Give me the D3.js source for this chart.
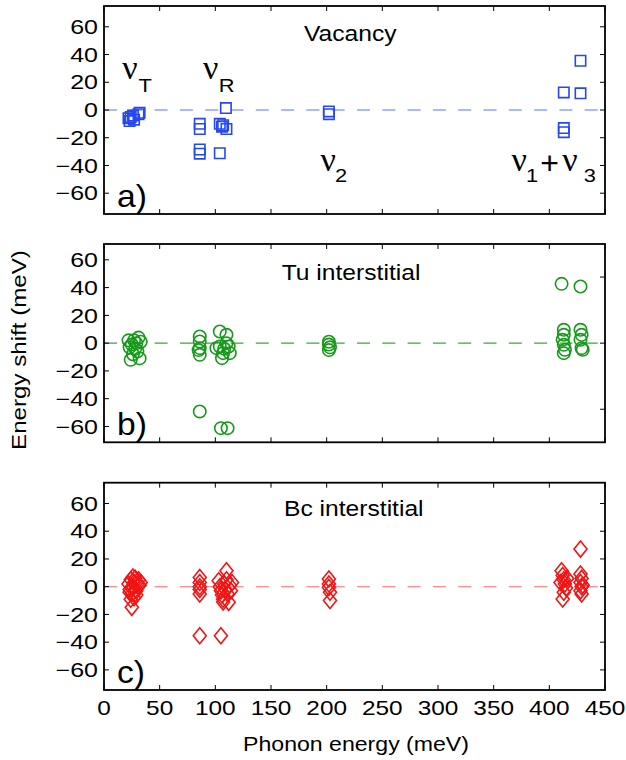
<!DOCTYPE html>
<html><head><meta charset="utf-8">
<script src="https://cdn.jsdelivr.net/npm/d3@7/dist/d3.min.js"></script>
<style>body{margin:0;background:#fff}</style>
</head><body><svg id="c" width="626" height="760"></svg>
<script>
// ---------- data ----------
const xTicks = [0, 50, 100, 150, 200, 250, 300, 350, 400, 450];
const yTicks = [-60, -40, -20, 0, 20, 40, 60];
const yTicksRightB = [-50, 0, 50];
const panelTitles = ["Vacancy", "Tu interstitial", "Bc interstitial"];
const panelLetters = ["a)", "b)", "c)"];

const vacancyEnergy = [22, 23, 24, 26, 27, 31, 32,
  86, 86, 86, 86, 104, 106, 107, 110, 104, 109.5,
  202, 202,
  428, 413, 428, 413, 413];
const vacancyShift = [-6, -8, -5, -4, -7, -3, -2,
  -10, -13.7, -28.5, -31.5, -10, -12, -11, -13.7, -31.2, 1.4,
  -1, -3,
  35.5, 12.7, 12, -13, -16];

const tuEnergy = [24, 32, 22, 31, 28, 25, 29, 27, 30, 26, 23, 33,
  86, 86, 86, 86, 85, 86,
  104, 110, 104, 107, 112, 106, 113, 110, 101, 108, 105, 111,
  202, 202, 203, 202,
  411, 428, 413, 413, 412, 413, 414, 413, 428, 429, 428, 429, 430];
const tuShift = [-12, -11, 2, 4, -4, -1, 0, 2, -6, -8, -3, 1,
  4.8, 1.2, -3.6, -8.4, -5, -49.2,
  8.4, 6, -2.4, -7.2, -2.4, -10.8, -7.2, 0, -3.6, -4, -61.2, -61.2,
  1, -1, -3, -5,
  42.7, 40.8, 9.6, 6, 2.4, -1.2, -4.8, -7.2, 9.6, 6, 2.4, -3.6, -4.8];

const bcEnergy = [25, 22, 23, 24, 25, 26, 27, 27, 28, 29, 30, 31, 32, 33, 24, 26, 29, 23,
  86, 86, 86, 86, 86, 86,
  110, 103, 104, 105, 106, 107, 108, 109, 110, 111, 112, 113, 114, 115, 107, 105,
  202, 202, 202, 203, 203,
  411, 412, 413, 414, 415, 413, 412, 410, 416,
  428, 428, 429, 428, 429, 428, 429, 430];
const bcShift = [-14.9, 2, -2, 5, -5, 0, 3, -8, 6, -3, 2, 5, 1, 3, -9, 7, -6, -4,
  6.7, 3, 0, -2, -5.3, -35.3,
  11.5, 4.3, 0, -3, -6, -9, 2, -2, 5, -5, -11.3, 1, -3, 3, -11, -35.3,
  5.5, 2, -0.5, -4, -10,
  11.5, 8, 5, 2, -1, -4, -8.9, 3, 6,
  27.1, 9.1, 6, 3, 0, -3, -5.3, 1];

// ---------- layout ----------
const svg = d3.select("#c");
const X0 = 104, X1 = 605;
const x = d3.scaleLinear().domain([0, 450]).range([X0, X1]);
const panels = [
  {top: 6, bottom: 214, dom: [-75, 75], energy: vacancyEnergy, shift: vacancyShift,
   marker: "square", color: "#2547f2", zero: "#5575ff"},
  {top: 244, bottom: 442.3, dom: [-71.4, 71.4], energy: tuEnergy, shift: tuShift,
   marker: "circle", color: "#16991a", zero: "#3aa83a", rightTicks: yTicksRightB},
  {top: 482.7, bottom: 690, dom: [-74.5, 75], energy: bcEnergy, shift: bcShift,
   marker: "diamond", color: "#f01515", zero: "#ff6b6b"}
];
const SANS = "'Liberation Sans', Arial, Helvetica, sans-serif";
const SERIF = "'Liberation Serif', 'Times New Roman', serif";

function label(g, px, py, s, size, opt = {}) {
  return g.append("text")
    .attr("transform", `translate(${px},${py}) scale(${opt.sx || 1},1)`)
    .attr("font-family", opt.family || SANS)
    .attr("font-size", size)
    .attr("fill", "#000")
    .attr("text-anchor", opt.anchor || "start")
    .text(s);
}

const diamondPath = "M0,-8L6.5,0L0,8L-6.5,0Z";
const squarePath = "M-5.2,-5.2H5.2V5.2H-5.2Z";

panels.forEach((p, i) => {
  const y = d3.scaleLinear().domain(p.dom).range([p.bottom, p.top]);
  const g = svg.append("g");
  g.append("line").attr("x1", X0).attr("x2", X1).attr("y1", y(0)).attr("y2", y(0))
    .attr("stroke", p.zero).attr("stroke-width", 1.1).attr("stroke-dasharray", "13,12.3");
  const pts = p.energy.map((e, k) => [e, p.shift[k]]);
  const mk = g.append("g").attr("fill", "none").attr("stroke", p.color).attr("stroke-width", 1.6);
  if (p.marker === "circle") {
    mk.selectAll("circle").data(pts).join("circle")
      .attr("cx", d => x(d[0])).attr("cy", d => y(d[1])).attr("r", 6.2);
  } else {
    mk.selectAll("path").data(pts).join("path")
      .attr("transform", d => `translate(${x(d[0])},${y(d[1])})`)
      .attr("d", p.marker === "square" ? squarePath : diamondPath);
  }
  const tk = g.append("g").attr("stroke", "#000").attr("stroke-width", 1);
  xTicks.forEach(v => {
    tk.append("line").attr("x1", x(v)).attr("x2", x(v)).attr("y1", p.bottom).attr("y2", p.bottom - 5);
    tk.append("line").attr("x1", x(v)).attr("x2", x(v)).attr("y1", p.top).attr("y2", p.top + 5);
  });
  yTicks.forEach(v => {
    tk.append("line").attr("x1", X0).attr("x2", X0 + 5).attr("y1", y(v)).attr("y2", y(v));
  });
  if (p.rightTicks) {
    const yr = d3.scaleLinear().domain([-75, 75]).range([p.bottom, p.top]);
    p.rightTicks.forEach(v => {
      tk.append("line").attr("x1", X1).attr("x2", X1 - 5).attr("y1", yr(v)).attr("y2", yr(v));
    });
  } else {
    yTicks.forEach(v => {
      tk.append("line").attr("x1", X1).attr("x2", X1 - 5).attr("y1", y(v)).attr("y2", y(v));
    });
  }
  g.append("rect").attr("x", X0).attr("y", p.top).attr("width", X1 - X0).attr("height", p.bottom - p.top)
    .attr("fill", "none").attr("stroke", "#000").attr("stroke-width", 1.8);
  yTicks.forEach(v => {
    label(g, X0 - 6, y(v) + 7.2, v < 0 ? "\u2212" + Math.abs(v) : String(v), 20, {anchor: "end", sx: 1.25});
  });
  const titleX = [304, 281.7, 284][i];
  const titleY = [40.7, 280, 516][i];
  label(g, titleX, titleY, panelTitles[i], 22, {sx: 1.12});
  label(g, X0 + 13, p.bottom - 7, panelLetters[i], 32, {sx: 1.05});
  p.y = y;
});

xTicks.forEach(v => {
  label(svg, x(v), 715, String(v), 20, {anchor: "middle", sx: 1.22});
});
label(svg, 356, 751, "Phonon energy (meV)", 21, {anchor: "middle", sx: 1.1});
svg.append("text")
  .attr("transform", "translate(26,350) rotate(-90) scale(1.15,1)")
  .attr("font-family", SANS).attr("font-size", 21).attr("text-anchor", "middle")
  .text("Energy shift (meV)");

// mode annotations (panel a), placed in data coordinates
const ya = panels[0].y;
const nuSize = 34, subSize = 19;
function nu(e, s) { label(svg, x(e), ya(s), "\u03BD", nuSize, {family: SERIF}); }
function sub(e, s, t) { label(svg, x(e), ya(s), t, subSize, {sx: 1.15}); }
nu(16.5, 22.3); sub(31, 12.7, "T");
nu(89, 22.3); sub(103, 12.7, "R");
nu(194.5, -43.7); sub(207.5, -52.1, "2");
nu(366, -43.7); sub(379, -52.1, "1");
label(svg, x(391.8), ya(-46.5), "+", 32, {sx: 1.0});
nu(411.5, -43.7); sub(431, -52.1, "3");
</script></body></html>
